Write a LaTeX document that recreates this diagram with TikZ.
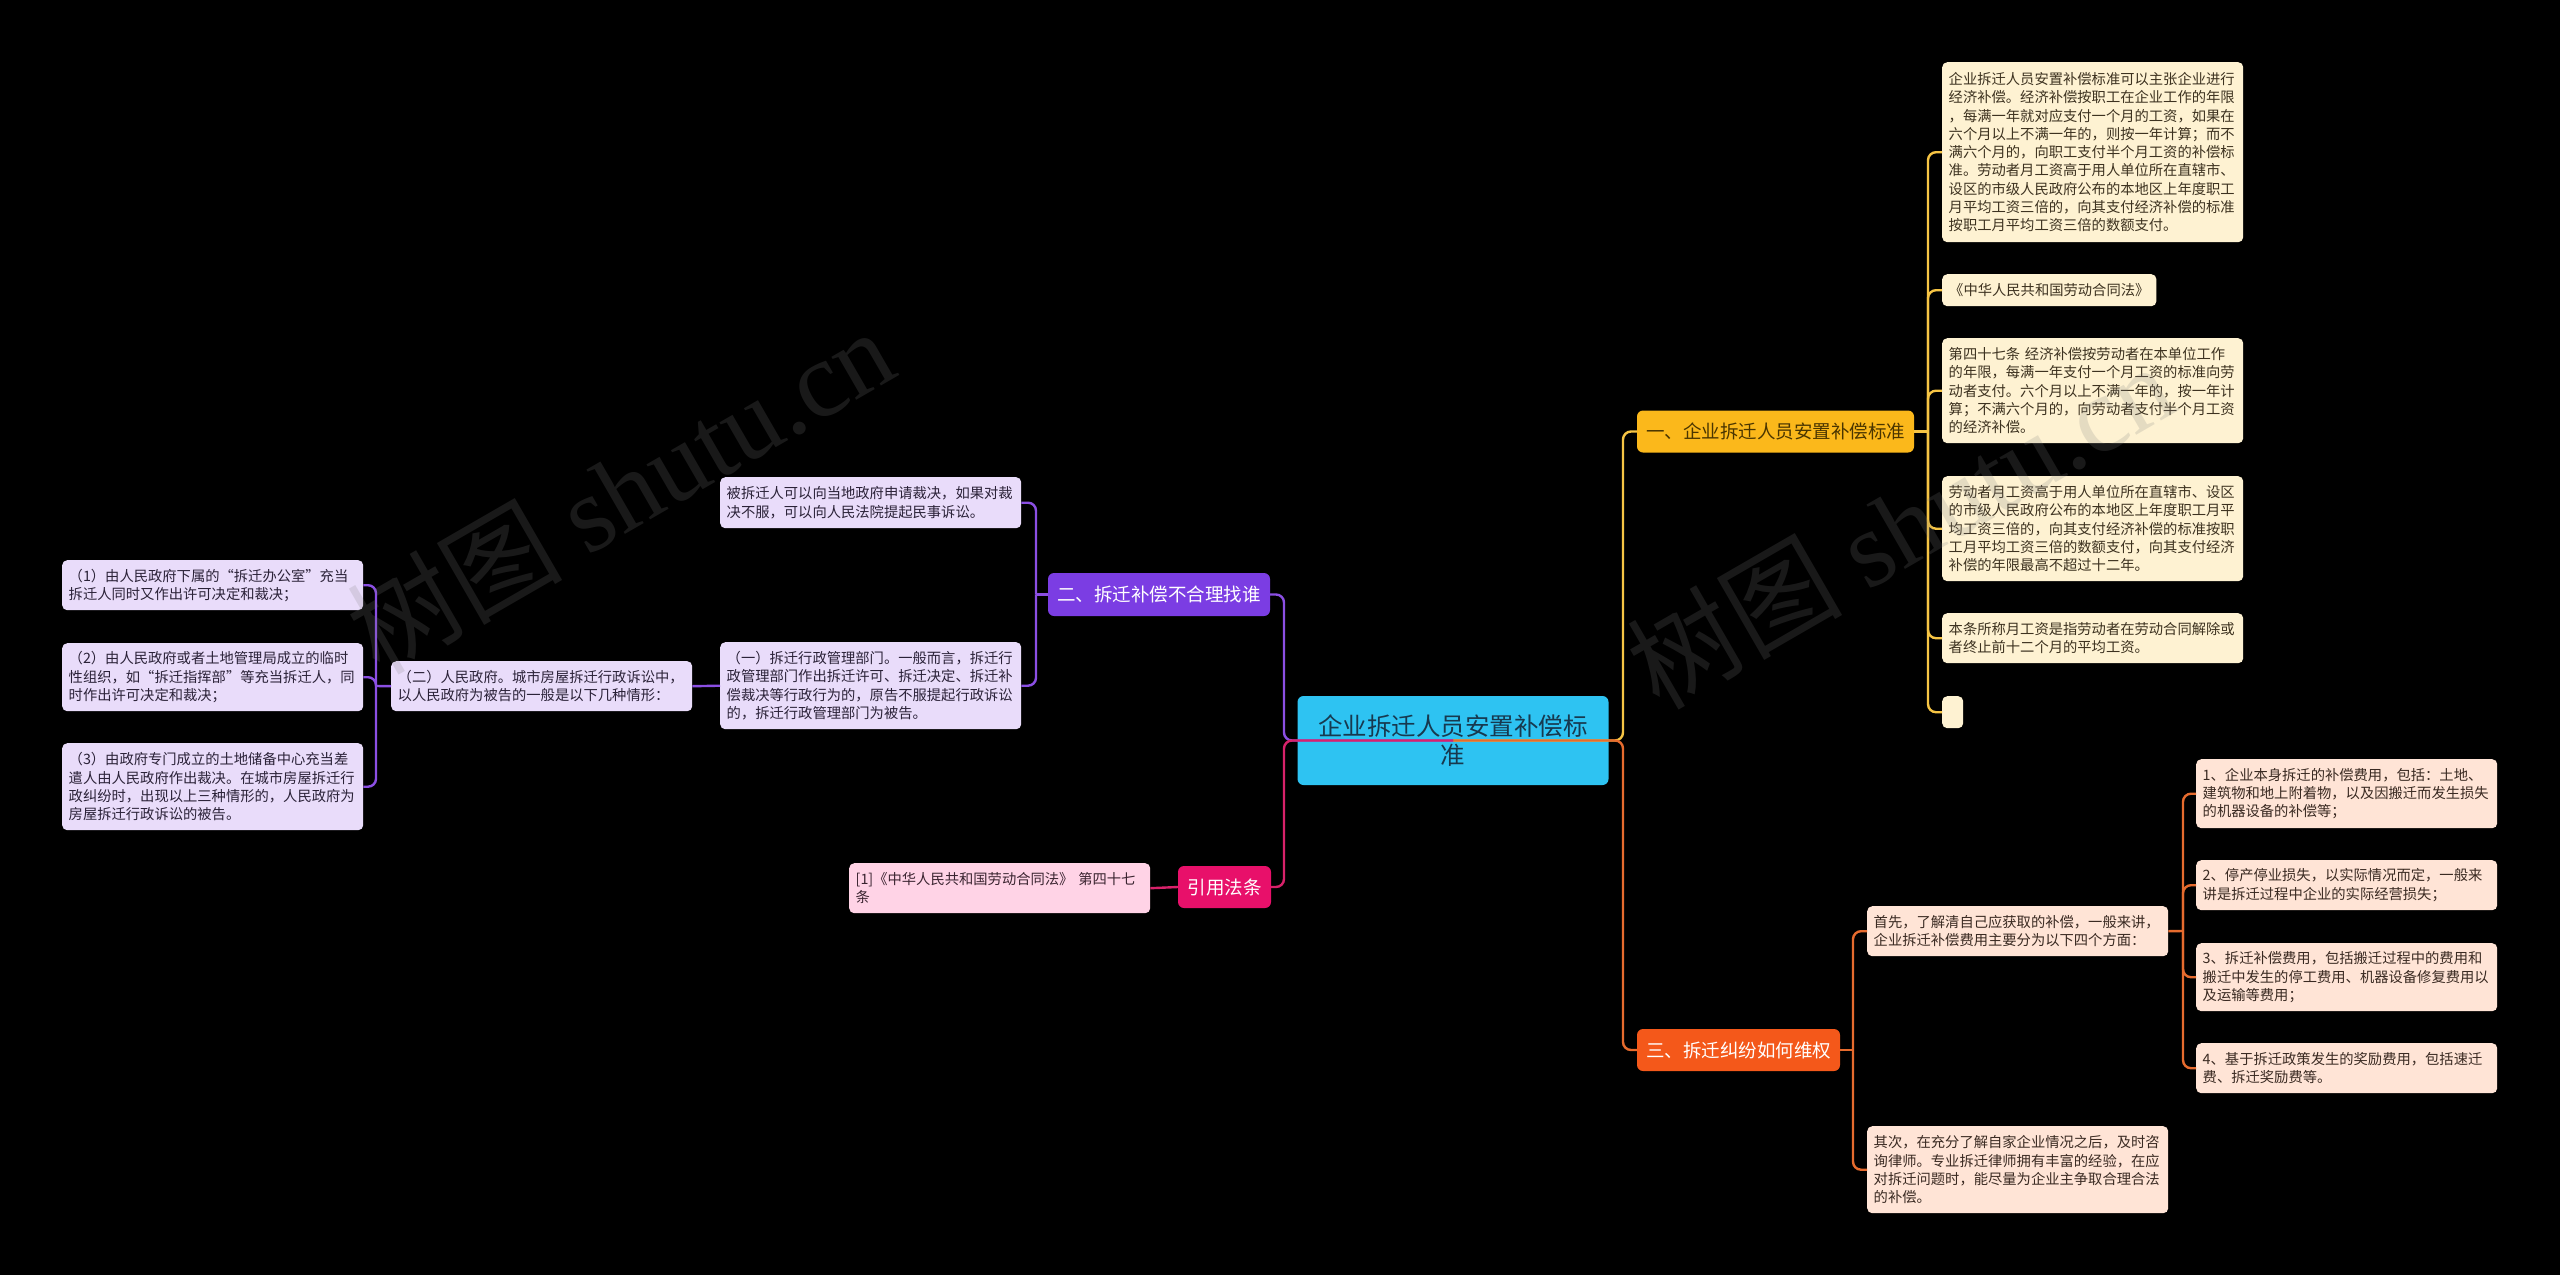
\documentclass[tikz,border=0pt]{standalone}
\usepackage{fontspec}
\setmainfont{Noto Sans CJK SC}
\newfontfamily\wmserif{Liberation Serif}
\definecolor{cfill}{HTML}{2EC3F2}
\definecolor{ctext}{HTML}{17394F}
\definecolor{yfill}{HTML}{FEF2D2}
\definecolor{ytext}{HTML}{3D3220}
\definecolor{ybr}{HTML}{FBB81B}
\definecolor{ybrtext}{HTML}{4A3500}
\definecolor{yline}{HTML}{F6C444}
\definecolor{ofill}{HTML}{FFE4D6}
\definecolor{otext}{HTML}{3A2A22}
\definecolor{obr}{HTML}{F4581A}
\definecolor{oline}{HTML}{E66B2E}
\definecolor{pfill}{HTML}{E9DCFA}
\definecolor{ptext}{HTML}{2B2238}
\definecolor{pbr}{HTML}{7B3DE3}
\definecolor{pline}{HTML}{8B4FE3}
\definecolor{kfill}{HTML}{FFD3E6}
\definecolor{ktext}{HTML}{3A2430}
\definecolor{kbr}{HTML}{E8106A}
\definecolor{kline}{HTML}{D8226A}
\newcommand\leaffont{\fontsize{14.3}{18.3}\selectfont}
\newcommand\brfont{\fontsize{18.5}{22}\selectfont}
\newcommand\cfont{\fontsize{24.5}{29}\selectfont}
\tikzset{
  leafbox/.style={rounded corners=5pt, inner ysep=0pt, inner xsep=6.5pt, align=left,
    anchor=north west, font=\leaffont, text width=288pt},
  autobox/.style={rounded corners=5pt, inner ysep=0pt, inner xsep=7pt, align=left,
    anchor=north west, font=\leaffont},
  yleaf/.style={leafbox, fill=yfill, text=ytext},
  oleaf/.style={leafbox, fill=ofill, text=otext},
  pleaf/.style={leafbox, fill=pfill, text=ptext},
  kleaf/.style={leafbox, fill=kfill, text=ktext},
  brbox/.style={rounded corners=6pt, inner sep=0pt, minimum height=42pt, align=center, font=\brfont},
  conn/.style={line width=2.4pt, rounded corners=8pt},
  wm/.style={font=\fontsize{108}{108}\selectfont, text=gray, opacity=0.2, rotate=30}
}
\begin{document}
\begin{tikzpicture}[x=1pt,y=-1pt]
\fill[black] (0,0) rectangle (2560,1275);
\useasboundingbox (0,0) rectangle (2560,1275);

% centre
\node[rounded corners=6pt, fill=cfill, text=ctext, font=\cfont, align=center,
  minimum width=311pt, minimum height=89pt, inner sep=0pt] (c) at (1453,740.5)
  {企业拆迁人员安置补偿标\\准};

% branches
\node[brbox, fill=ybr, text=ybrtext, minimum width=277pt] (b1) at (1775.5,431.5) {一、企业拆迁人员安置补偿标准};
\node[brbox, fill=obr, text=white, minimum width=203pt] (b3) at (1738.5,1050) {三、拆迁纠纷如何维权};
\node[brbox, fill=pbr, text=white, minimum width=222pt, minimum height=43pt] (b2) at (1159,594.5) {二、拆迁补偿不合理找谁};
\node[brbox, fill=kbr, text=white, minimum width=93pt] (q) at (1224.5,887) {引用法条};

% yellow leaves
\node[yleaf, minimum height=180pt] (y1) at (1942,62) {企业拆迁人员安置补偿标准可以主张企业进行\\经济补偿。经济补偿按职工在企业工作的年限\\，每满一年就对应支付一个月的工资，如果在\\六个月以上不满一年的，则按一年计算；而不\\满六个月的，向职工支付半个月工资的补偿标\\准。劳动者月工资高于用人单位所在直辖市、\\设区的市级人民政府公布的本地区上年度职工\\月平均工资三倍的，向其支付经济补偿的标准\\按职工月平均工资三倍的数额支付。};
\node[autobox, fill=yfill, text=ytext, minimum height=32pt] (y2) at (1942,274) {《中华人民共和国劳动合同法》};
\node[yleaf, minimum height=105pt] (y3) at (1942,338) {第四十七条 经济补偿按劳动者在本单位工作\\的年限，每满一年支付一个月工资的标准向劳\\动者支付。六个月以上不满一年的，按一年计\\算；不满六个月的，向劳动者支付半个月工资\\的经济补偿。};
\node[yleaf, minimum height=105pt] (y4) at (1942,476) {劳动者月工资高于用人单位所在直辖市、设区\\的市级人民政府公布的本地区上年度职工月平\\均工资三倍的，向其支付经济补偿的标准按职\\工月平均工资三倍的数额支付，向其支付经济\\补偿的年限最高不超过十二年。};
\node[yleaf, minimum height=50pt] (y5) at (1942,613) {本条所称月工资是指劳动者在劳动合同解除或\\者终止前十二个月的平均工资。};
\node[rounded corners=5pt, fill=yfill, anchor=north west, inner sep=0pt, minimum width=21pt, minimum height=32pt] (y6) at (1942,696) {};

% orange leaves
\node[oleaf, minimum height=50pt] (s1) at (1867,906) {首先，了解清自己应获取的补偿，一般来讲，\\企业拆迁补偿费用主要分为以下四个方面：};
\node[oleaf, minimum height=87pt] (s2) at (1867,1126) {其次，在充分了解自家企业情况之后，及时咨\\询律师。专业拆迁律师拥有丰富的经验，在应\\对拆迁问题时，能尽量为企业主争取合理合法\\的补偿。};
\node[oleaf, minimum height=69pt] (i1) at (2196,759) {1、企业本身拆迁的补偿费用，包括：土地、\\建筑物和地上附着物，以及因搬迁而发生损失\\的机器设备的补偿等；};
\node[oleaf, minimum height=50pt] (i2) at (2196,860) {2、停产停业损失，以实际情况而定，一般来\\讲是拆迁过程中企业的实际经营损失；};
\node[oleaf, minimum height=68pt] (i3) at (2196,943) {3、拆迁补偿费用，包括搬迁过程中的费用和\\搬迁中发生的停工费用、机器设备修复费用以\\及运输等费用；};
\node[oleaf, minimum height=50pt] (i4) at (2196,1043) {4、基于拆迁政策发生的奖励费用，包括速迁\\费、拆迁奖励费等。};

% purple leaves
\node[pleaf, minimum height=51pt] (p1) at (720,477) {被拆迁人可以向当地政府申请裁决，如果对裁\\决不服，可以向人民法院提起民事诉讼。};
\node[pleaf, minimum height=87pt] (p2) at (720,642) {（一）拆迁行政管理部门。一般而言，拆迁行\\政管理部门作出拆迁许可、拆迁决定、拆迁补\\偿裁决等行政行为的，原告不服提起行政诉讼\\的，拆迁行政管理部门为被告。};
\node[pleaf, minimum height=50pt] (p3) at (391,661) {（二）人民政府。城市房屋拆迁行政诉讼中，\\以人民政府为被告的一般是以下几种情形：};
\node[pleaf, minimum height=50pt] (l1) at (62,560) {（1）由人民政府下属的“拆迁办公室”充当\\拆迁人同时又作出许可决定和裁决；};
\node[pleaf, minimum height=68pt] (l2) at (62,643) {（2）由人民政府或者土地管理局成立的临时\\性组织，如“拆迁指挥部”等充当拆迁人，同\\时作出许可决定和裁决；};
\node[pleaf, minimum height=87pt] (l3) at (62,743) {（3）由政府专门成立的土地储备中心充当差\\遣人由人民政府作出裁决。在城市房屋拆迁行\\政纠纷时，出现以上三种情形的，人民政府为\\房屋拆迁行政诉讼的被告。};

% pink leaf
\node[kleaf, minimum height=50pt] (r1) at (849,863) {[1]《中华人民共和国劳动合同法》 第四十七\\条};

% bus coordinates
\coordinate (rb) at (1623,740.5);
\coordinate (lb) at (1284,740.5);
\coordinate (yb) at (1928,431.5);
\coordinate (ob) at (1853,1050);
\coordinate (ib) at (2183,931);
\coordinate (pb) at (1036,594.5);
\coordinate (qb) at (376,686);

% connectors: centre
\draw[conn, yline] (c.center) -- (rb) |- (b1.west);
\draw[conn, oline] (c.center) -- (rb) |- (b3.west);
\draw[conn, pline] (c.center) -- (lb) |- (b2.east);
\draw[conn, kline] (c.center) -- (lb) |- (q.east);

% yellow
\draw[conn, yline] (b1.east) -- (yb);
\foreach \n in {y1,y2,y3,y4,y5,y6} \draw[conn, yline] (yb) |- (\n.west);
% orange
\draw[conn, oline] (b3.east) -- (ob);
\foreach \n in {s1,s2} \draw[conn, oline] (ob) |- (\n.west);
\draw[conn, oline] (s1.east) -- (ib);
\foreach \n in {i1,i2,i3,i4} \draw[conn, oline] (ib) |- (\n.west);
% purple
\draw[conn, pline] (b2.west) -- (pb);
\foreach \n in {p1,p2} \draw[conn, pline] (pb) |- (\n.east);
\draw[conn, pline] (p2.west) -- (p3.east);
\draw[conn, pline] (p3.west) -- (qb);
\foreach \n in {l1,l2,l3} \draw[conn, pline] (qb) |- (\n.east);
% pink
\draw[conn, kline] (q.west) -- (r1.east);

% watermarks
\node[wm] (wm1) at (620,490) {树图 {\wmserif shutu.cn}};
\node[wm] (wm2) at (1900,525) {树图 {\wmserif shutu.cn}};
\end{tikzpicture}
\end{document}
